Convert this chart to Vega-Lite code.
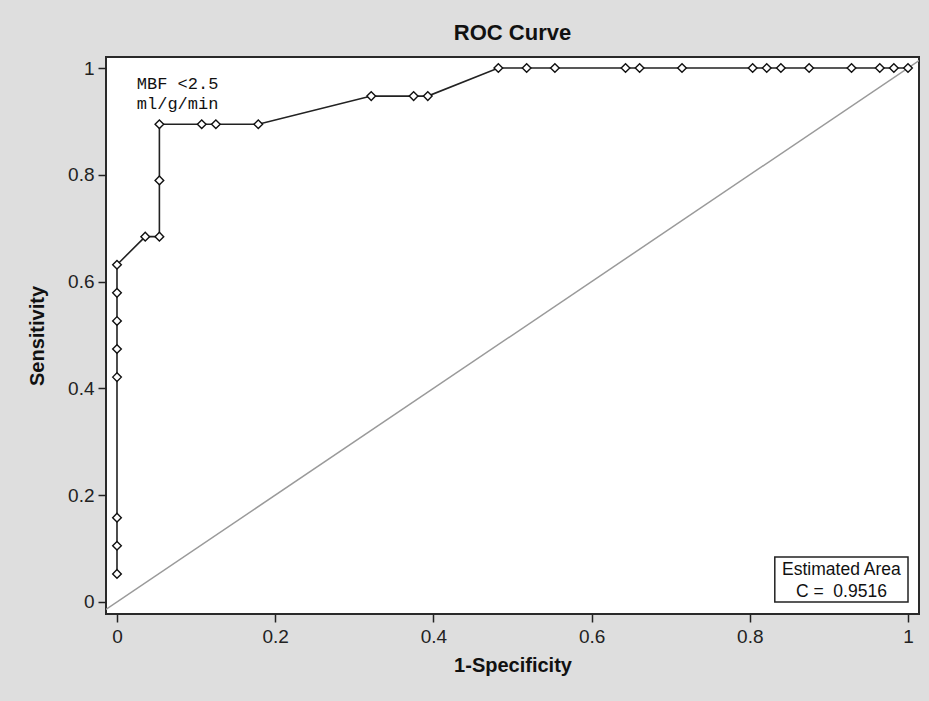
{
  "$schema": "https://vega.github.io/schema/vega-lite/v6.json",
  "width": 813,
  "height": 557,
  "autosize": {"type": "none"},
  "padding": {"left": 106, "top": 57, "right": 10, "bottom": 87},
  "background": "#dedede",
  "config": {
    "font": "Liberation Sans",
    "view": {"fill": "white", "stroke": "#2a2a2a", "strokeWidth": 2},
    "axis": {"grid": false, "domain": false, "tickColor": "#222", "tickSize": 8, "tickWidth": 1.5,
      "labelFont": "Liberation Sans Narrow, Liberation Sans", "labelFontSize": 19, "labelColor": "#222",
      "titleFont": "Liberation Sans", "titleFontSize": 20, "titleFontWeight": "bold", "titleColor": "#111"}
  },
  "title": {"text": "ROC Curve", "fontSize": 22, "fontWeight": "bold", "font": "Liberation Sans", "color": "#111", "offset": 12, "anchor": "middle"},
  "datasets": {
    "roc": [
      {"fpr": 0, "sens": 0.0526, "k": 1},
      {"fpr": 0, "sens": 0.1053, "k": 2},
      {"fpr": 0, "sens": 0.1579, "k": 3},
      {"fpr": 0, "sens": 0.4211, "k": 4},
      {"fpr": 0, "sens": 0.4737, "k": 5},
      {"fpr": 0, "sens": 0.5263, "k": 6},
      {"fpr": 0, "sens": 0.5789, "k": 7},
      {"fpr": 0, "sens": 0.6316, "k": 8},
      {"fpr": 0.0357, "sens": 0.6842, "k": 9},
      {"fpr": 0.0536, "sens": 0.6842, "k": 10},
      {"fpr": 0.0536, "sens": 0.7895, "k": 11},
      {"fpr": 0.0536, "sens": 0.8947, "k": 12},
      {"fpr": 0.1071, "sens": 0.8947, "k": 13},
      {"fpr": 0.125, "sens": 0.8947, "k": 14},
      {"fpr": 0.1786, "sens": 0.8947, "k": 15},
      {"fpr": 0.3214, "sens": 0.9474, "k": 16},
      {"fpr": 0.375, "sens": 0.9474, "k": 17},
      {"fpr": 0.3929, "sens": 0.9474, "k": 18},
      {"fpr": 0.4821, "sens": 1, "k": 19},
      {"fpr": 0.5179, "sens": 1, "k": 20},
      {"fpr": 0.5536, "sens": 1, "k": 21},
      {"fpr": 0.6429, "sens": 1, "k": 22},
      {"fpr": 0.6607, "sens": 1, "k": 23},
      {"fpr": 0.7143, "sens": 1, "k": 24},
      {"fpr": 0.8036, "sens": 1, "k": 25},
      {"fpr": 0.8214, "sens": 1, "k": 26},
      {"fpr": 0.8393, "sens": 1, "k": 27},
      {"fpr": 0.875, "sens": 1, "k": 28},
      {"fpr": 0.9286, "sens": 1, "k": 29},
      {"fpr": 0.9643, "sens": 1, "k": 30},
      {"fpr": 0.9821, "sens": 1, "k": 31},
      {"fpr": 1, "sens": 1, "k": 32}
    ],
    "diag": [
      {"fpr": -0.03, "sens": -0.03},
      {"fpr": 1.03, "sens": 1.03}
    ]
  },
  "layer": [
    {
      "data": {"name": "diag"},
      "mark": {"type": "line", "color": "#9a9a9a", "strokeWidth": 1.5, "clip": true},
      "encoding": {
        "x": {"field": "fpr", "type": "quantitative", "scale": {"domain": [-0.0139, 1.0139], "nice": false, "zero": false},
          "axis": {"title": "1-Specificity", "values": [0, 0.2, 0.4, 0.6, 0.8, 1], "format": "~g", "labelPadding": 5, "titlePadding": 9}},
        "y": {"field": "sens", "type": "quantitative", "scale": {"domain": [-0.0225, 1.0206], "nice": false, "zero": false},
          "axis": {"title": "Sensitivity", "values": [0, 0.2, 0.4, 0.6, 0.8, 1], "format": "~g", "labelPadding": 4, "titlePadding": 20}}
      }
    },
    {
      "data": {"name": "roc"},
      "mark": {"type": "line", "color": "#222", "strokeWidth": 1.6},
      "encoding": {
        "x": {"field": "fpr", "type": "quantitative"},
        "y": {"field": "sens", "type": "quantitative"},
        "order": {"field": "k"}
      }
    },
    {
      "data": {"name": "roc"},
      "mark": {"type": "point", "shape": "diamond", "filled": true, "fill": "white", "stroke": "#111", "strokeWidth": 1.4, "size": 75, "opacity": 1},
      "encoding": {
        "x": {"field": "fpr", "type": "quantitative"},
        "y": {"field": "sens", "type": "quantitative"}
      }
    },
    {
      "data": {"values": [{"label": ["MBF <2.5", "ml/g/min"]}]},
      "mark": {"type": "text", "font": "Liberation Mono", "fontSize": 17, "align": "left", "baseline": "alphabetic", "lineHeight": 20, "color": "#111"},
      "encoding": {
        "x": {"datum": 0.025},
        "y": {"datum": 0.9612},
        "text": {"field": "label"}
      }
    },
    {
      "data": {"values": [{"b": 1}]},
      "mark": {"type": "rect", "fill": "white", "stroke": "#222", "strokeWidth": 1.5},
      "encoding": {
        "x": {"datum": 0.8316},
        "x2": {"datum": 1.0},
        "y": {"datum": 0.0843},
        "y2": {"datum": 0}
      }
    },
    {
      "data": {"values": [{"label": ["Estimated Area", "C =\u00a0\u00a00.9516"]}]},
      "mark": {"type": "text", "fontSize": 17.5, "align": "center", "baseline": "alphabetic", "lineHeight": 22, "color": "#111"},
      "encoding": {
        "x": {"datum": 0.9158},
        "y": {"datum": 0.0496},
        "text": {"field": "label"}
      }
    }
  ]
}
